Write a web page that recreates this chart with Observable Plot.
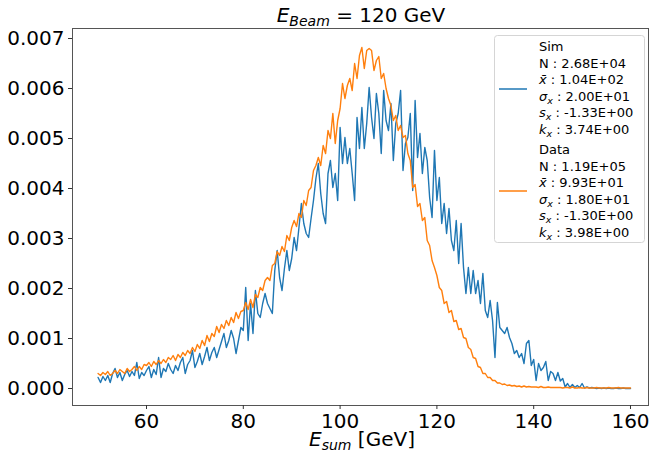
<!DOCTYPE html>
<html>
<head>
<meta charset="utf-8">
<script src="https://cdn.jsdelivr.net/npm/d3@7"></script>
<script src="https://cdn.jsdelivr.net/npm/@observablehq/plot@0.6"></script>
<style>
  html, body { margin: 0; padding: 0; background: #fff; }
  #chart svg { display: block; }
</style>
</head>
<body>
<div id="chart"></div>
<script>
// ---- data (densities in units of 1e-4), bins every 0.5 GeV from 50 to 160 ----
const binFirst = 50;
const binStep = 0.5;
const xTicks = [60, 80, 100, 120, 140, 160];
const yTicks = [0, 0.001, 0.002, 0.003, 0.004, 0.005, 0.006, 0.007];

const simValues = [
  2.2,1.2,2.4,1.6,2.6,1.2,3.0,4.0,2.2,3.2,
  1.6,2.8,3.6,2.4,3.4,2.6,5.2,2.0,3.2,2.6,
  3.6,4.4,2.2,3.8,2.8,6.2,2.2,4.0,3.4,5.0,
  3.8,3.0,4.6,3.6,5.2,6.2,3.0,4.8,5.6,7.6,
  4.2,5.4,7.0,4.8,6.4,8.2,5.6,7.2,8.2,6.2,
  7.8,9.4,11.0,8.2,9.6,11.6,10.0,7.0,9.6,12.2,
  11.6,20.2,9.6,17.0,11.0,19.6,15.0,14.2,17.0,19.0,
  17.0,16.0,15.0,23.6,27.6,22.2,19.6,24.0,27.6,23.6,
  26.0,30.2,27.6,32.2,37.0,33.0,31.0,30.2,34.0,37.6,
  42.0,45.0,39.0,35.0,33.0,43.0,45.6,40.2,43.0,37.6,
  52.2,45.0,50.2,45.0,48.0,43.0,37.6,54.2,48.0,56.2,
  48.0,53.0,60.2,54.2,50.0,59.0,55.0,47.0,59.6,53.6,
  51.6,57.0,45.6,53.0,55.0,59.6,43.6,49.0,50.2,55.0,
  39.6,57.6,46.2,51.0,43.0,48.2,45.6,38.2,34.2,47.6,
  37.6,42.2,33.0,37.0,31.0,36.0,29.6,27.6,33.6,25.0,
  33.0,24.2,19.0,24.2,19.0,23.6,19.0,21.6,17.0,23.0,
  15.6,14.2,17.6,13.6,6.2,17.2,12.2,11.6,11.0,12.2,
  10.2,9.0,7.0,7.6,6.2,7.0,5.0,9.0,9.6,4.6,
  5.8,1.6,5.0,3.6,4.2,5.4,1.6,3.4,3.0,1.6,
  3.2,1.5,2.0,0.3,1.0,0.2,0.8,0.2,0.6,0.2,
  1.0,0.1,0.3,0.1,0.2,0.1,0.0,0.1,0.0,0.1,
  0.0,0.1,0.0,0.0,0.1,0.0,0.0,0.1,0.0,0.0,
  0.0
];

const dataValues = [
  3.0,2.6,3.2,2.8,3.4,2.6,3.0,3.6,3.0,3.8,
  3.4,3.0,4.0,3.4,3.8,4.4,3.6,4.4,3.8,4.8,
  4.6,5.2,4.4,5.4,4.8,5.6,5.0,5.8,5.2,6.2,
  5.8,6.6,5.6,6.8,6.2,7.2,6.6,7.6,7.0,8.2,
  7.4,8.8,8.0,9.6,8.6,10.6,9.4,11.0,10.4,12.4,
  11.2,12.8,12.0,13.6,12.6,14.2,13.2,15.2,14.0,15.4,
  15.6,17.2,15.8,17.8,16.2,18.8,18.2,20.2,19.6,21.6,
  22.2,21.6,24.6,25.0,27.4,26.6,28.4,27.4,30.6,29.6,
  32.2,33.6,32.4,35.0,34.2,37.6,36.6,39.6,40.2,43.6,
  44.6,46.2,44.6,48.6,47.0,51.6,50.0,55.0,49.0,53.6,
  56.0,61.0,58.0,60.6,62.0,59.6,65.0,62.0,66.6,68.2,
  64.0,67.6,68.0,67.6,63.6,65.6,66.4,62.0,63.0,60.0,
  58.0,56.6,53.6,54.6,51.6,52.6,50.2,50.6,47.0,45.6,
  40.2,40.8,36.4,37.0,33.6,34.2,29.6,28.6,25.6,24.2,
  22.6,20.2,19.6,17.0,17.4,15.2,15.6,13.4,13.6,11.8,
  12.0,10.2,10.0,8.2,7.8,6.2,6.0,4.4,4.2,3.0,
  3.0,2.2,2.2,1.6,1.6,1.1,1.1,0.8,0.9,0.6,
  0.7,0.5,0.6,0.4,0.5,0.3,0.5,0.3,0.4,0.3,
  0.3,0.3,0.2,0.4,0.2,0.2,0.3,0.2,0.2,0.2,
  0.2,0.2,0.1,0.2,0.2,0.1,0.3,0.1,0.1,0.2,
  0.1,0.1,0.2,0.1,0.1,0.1,0.2,0.1,0.1,0.1,
  0.1,0.2,0.1,0.1,0.1,0.2,0.1,0.1,0.1,0.1,
  0.1
];

const simStats = ["2.68E+04", "1.04E+02", "2.00E+01", "-1.33E+00", "3.74E+00"];
const dataStats = ["1.19E+05", "9.93E+01", "1.80E+01", "-1.30E+00", "3.98E+00"];
const seriesNames = ["Sim", "Data"];
const seriesColors = ["#1f77b4", "#ff7f0e"];

// ---- build rows ----
const toRows = (vals) => vals.map((v, i) => ({ e: binFirst + i * binStep, d: v * 1e-4 }));
const simRows = toRows(simValues);
const dataRows = toRows(dataValues);

const FONT = "DejaVu Sans, sans-serif";
const W = 649, H = 454;

const chart = Plot.plot({
  width: W,
  height: H,
  marginLeft: 72,
  marginRight: 1,
  marginTop: 28,
  marginBottom: 49,
  style: { fontFamily: FONT, fontSize: "20px", color: "#000", background: "#fff" },
  x: { domain: [44.71, 163.72] },
  y: { domain: [-0.00034, 0.0072] },
  marks: [
    Plot.line(simRows, { x: "e", y: "d", stroke: seriesColors[0], strokeWidth: 1.4 }),
    Plot.line(dataRows, { x: "e", y: "d", stroke: seriesColors[1], strokeWidth: 1.4 }),
    Plot.frame({ stroke: "#555", strokeWidth: 1 }),
    Plot.axisX({ ticks: xTicks, tickSize: 4, tickPadding: 4, label: null, fontSize: 20, stroke: "#333" }),
    Plot.axisY({ ticks: yTicks, tickSize: 4, tickPadding: 4, label: null, fontSize: 20, stroke: "#333", tickFormat: d3.format(".3f") })
  ]
});

document.getElementById("chart").appendChild(chart);

const svg = d3.select(chart);
svg.selectAll("g[aria-label='x-axis tick label'] text, g[aria-label='y-axis tick label'] text").attr("fill", "#000");

// Title
const title = svg.append("text")
  .attr("x", 361).attr("y", 22)
  .attr("text-anchor", "middle")
  .attr("font-family", FONT).attr("font-size", 20).attr("fill", "#000");
title.append("tspan").attr("font-style", "italic").text("E");
title.append("tspan").attr("font-style", "italic").attr("font-size", 14).attr("dy", 4).text("Beam");
title.append("tspan").attr("dy", -4).text(" = 120 GeV");

// X axis label
const xl = svg.append("text")
  .attr("x", 362).attr("y", 446)
  .attr("text-anchor", "middle")
  .attr("font-family", FONT).attr("font-size", 20).attr("fill", "#000");
xl.append("tspan").attr("font-style", "italic").text("E");
xl.append("tspan").attr("font-style", "italic").attr("font-size", 14).attr("dy", 4).text("sum");
xl.append("tspan").attr("dy", -4).text(" [GeV]");

// Legend
const lg = svg.append("g").attr("font-family", FONT).attr("font-size", 13)
  .attr("fill", "#000").attr("text-anchor", "start");
lg.append("rect").attr("x", 494.5).attr("y", 35.5).attr("width", 150).attr("height", 207)
  .attr("rx", 3).attr("fill", "#fff").attr("fill-opacity", 0.8).attr("stroke", "#d5d5d5");

function statLine(g, y, sym, sub, value, bar) {
  const t = g.append("text").attr("x", 539).attr("y", y).attr("text-anchor", "start");
  t.append("tspan").attr("font-style", "italic").text(bar ? "x\u0304" : sym);
  if (sub) {
    t.append("tspan").attr("font-style", "italic").attr("font-size", 9.5).attr("dy", 3).text(sub);
    t.append("tspan").attr("dy", -3).text(" : " + value);
  } else {
    t.append("tspan").text(" : " + value);
  }
}

const blocks = [
  { name: seriesNames[0], stats: simStats, color: seriesColors[0], top: 51, handle: 89 },
  { name: seriesNames[1], stats: dataStats, color: seriesColors[1], top: 154, handle: 191 }
];
const step = 16.6;
blocks.forEach(b => {
  lg.append("line").attr("x1", 499).attr("x2", 527).attr("y1", b.handle).attr("y2", b.handle)
    .attr("stroke", b.color).attr("stroke-width", 1.5);
  lg.append("text").attr("x", 539).attr("y", b.top).attr("text-anchor", "start").text(b.name);
  lg.append("text").attr("x", 539).attr("y", b.top + step).attr("text-anchor", "start").text("N : " + b.stats[0]);
  statLine(lg, b.top + 2 * step, "x", null, b.stats[1], true);
  statLine(lg, b.top + 3 * step, "\u03C3", "x", b.stats[2]);
  statLine(lg, b.top + 4 * step, "s", "x", b.stats[3]);
  statLine(lg, b.top + 5 * step, "k", "x", b.stats[4]);
});
</script>
</body>
</html>
